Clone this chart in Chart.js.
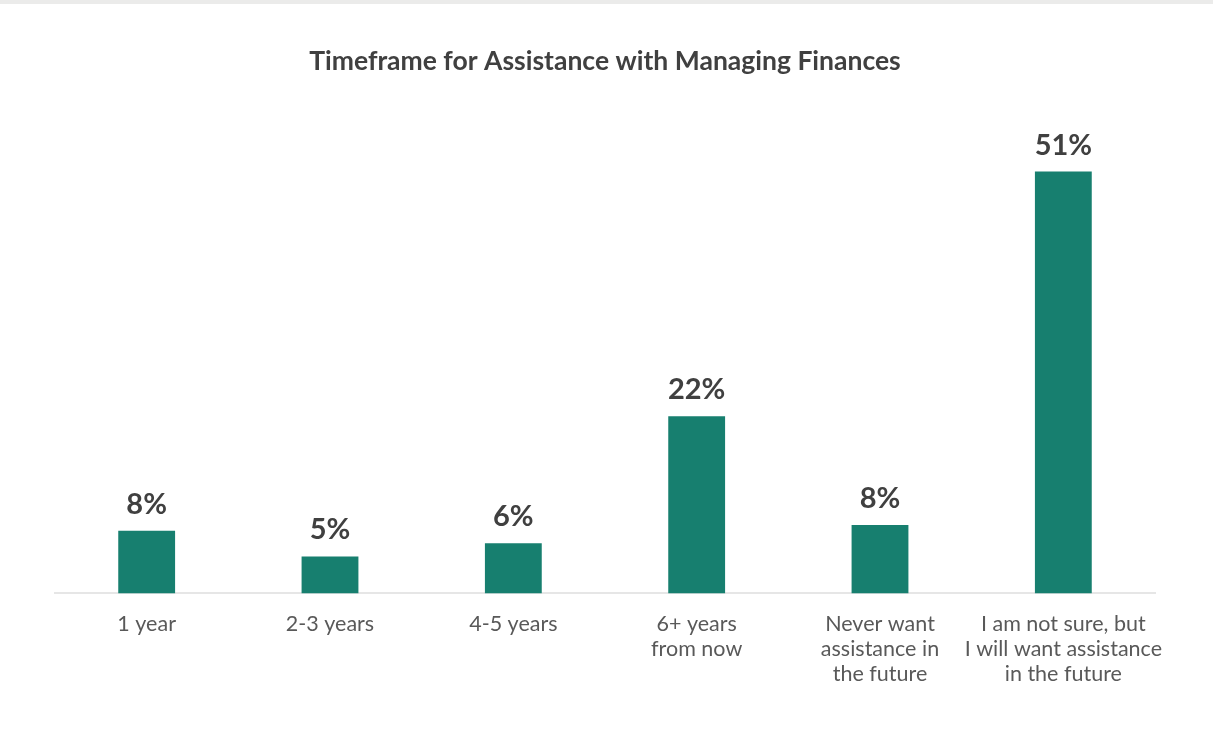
<!DOCTYPE html>
<html>
<head>
<meta charset="utf-8">
<script src="https://cdn.jsdelivr.net/npm/chart.js@4.4.0/dist/chart.umd.min.js"></script>
<style>
  html, body { margin: 0; padding: 0; background: #ffffff; }
  #wrap { position: relative; width: 1213px; height: 729px; }
  #band { position: absolute; left: 0; top: 0; width: 1213px; height: 4px; background: #ebebea; }
  canvas { position: absolute; left: 0; top: 0; }
</style>
</head>
<body>
<div id="wrap">
  <canvas id="c" width="1213" height="729"></canvas>
  <div id="band"></div>
</div>
<script>
const chartTitle = "Timeframe for Assistance with Managing Finances";
const categories = [
  "1 year",
  "2-3 years",
  "4-5 years",
  ["6+ years", "from now"],
  ["Never want", "assistance in", "the future"],
  ["I am not sure, but", "I will want assistance", "in the future"]
];
const values = [7.6, 4.5, 6.1, 21.5, 8.3, 51.2];
const valueLabels = ["8%", "5%", "6%", "22%", "8%", "51%"];

const barColor = "#177f6f";

const labelPlugin = {
  id: "barValueLabels",
  afterDatasetsDraw(chart) {
    const ctx = chart.ctx;
    const meta = chart.getDatasetMeta(0);
    ctx.save();
    ctx.font = "bold 29px Lato";
    ctx.fillStyle = "#404040";
    ctx.textAlign = "center";
    ctx.textBaseline = "alphabetic";
    meta.data.forEach((bar, i) => {
      ctx.fillText(valueLabels[i], bar.x, bar.y - 17);
    });
    ctx.restore();
  }
};

new Chart(document.getElementById("c"), {
  type: "bar",
  data: {
    labels: categories,
    datasets: [{
      data: values,
      backgroundColor: barColor,
      borderWidth: 0,
      barPercentage: 0.31,
      categoryPercentage: 1.0
    }]
  },
  options: {
    responsive: false,
    animation: false,
    devicePixelRatio: 1,
    layout: { padding: { top: 0, left: 55, right: 58, bottom: 24.5 } },
    plugins: {
      legend: { display: false },
      tooltip: { enabled: false },
      title: {
        display: true,
        text: chartTitle,
        color: "#404040",
        font: { family: "Lato", size: 26.5, weight: "bold" },
        padding: { top: 45.5, bottom: 21.7 }
      }
    },
    scales: {
      x: {
        grid: { display: false, drawTicks: false },
        border: { display: true, color: "#e6e6e6", width: 2 },
        ticks: {
          color: "#595959",
          font: { family: "Lato", size: 21.5, lineHeight: 1.163 },
          padding: 18,
          maxRotation: 0,
          autoSkip: false
        }
      },
      y: {
        display: false,
        min: 0,
        max: 60
      }
    }
  },
  plugins: [labelPlugin]
});
</script>
</body>
</html>
